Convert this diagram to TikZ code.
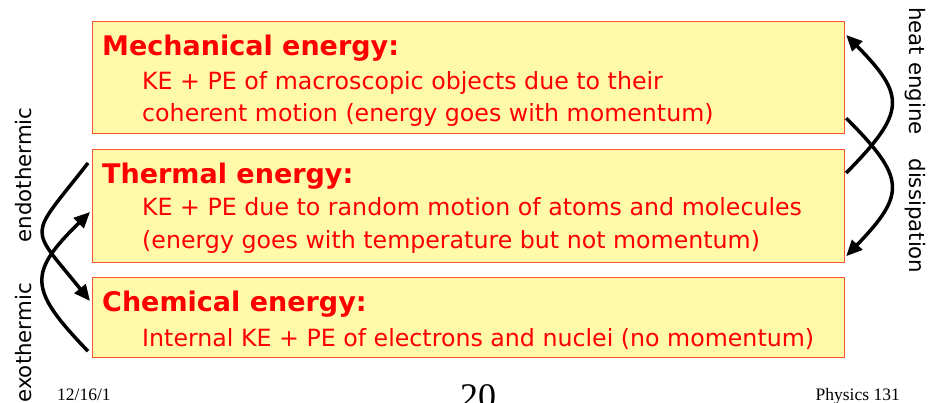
\documentclass[tikz,border=0pt]{standalone}
\usepackage{fontspec}
\setmainfont{DejaVu Sans}
\newfontfamily\serifft{Liberation Serif}
\usetikzlibrary{arrows.meta,calc}
\definecolor{boxfill}{RGB}{255,250,170}
\definecolor{boxline}{RGB}{250,85,50}
\definecolor{txtred}{RGB}{255,0,0}
\begin{document}
\begin{tikzpicture}[x=1pt,y=-1pt,
  ebox/.style={draw=boxline, fill=boxfill, line width=1.2pt, rectangle, inner sep=0pt, anchor=north west, minimum width=752pt},
  etitle/.style={anchor=base west, inner sep=0pt, text=txtred, font=\fontsize{27}{32}\selectfont\bfseries},
  ebody/.style={anchor=base west, inner sep=0pt, text=txtred, font=\fontsize{23.7}{28}\selectfont},
  flow/.style={line width=3.5pt, -{Triangle[length=16pt,width=14pt]}},
  side/.style={inner sep=0pt, font=\fontsize{21.3}{25}\selectfont},
  foot/.style={inner sep=0pt, font=\serifft\fontsize{17.5}{20}\selectfont}]
\useasboundingbox (0,0) rectangle (929,403);

% boxes
\node[ebox, minimum height=112pt] (mech) at (92,21) {};
\node[ebox, minimum height=113pt] (thermal) at (92,149) {};
\node[ebox, minimum height=80pt] (chem) at (92,277) {};

% box texts
\node[etitle] (mecht) at ([xshift=10pt,yshift=-35pt]mech.north west) {Mechanical energy:};
\node[ebody] (mechb1) at ([xshift=50pt,yshift=-69pt]mech.north west) {KE + PE of macroscopic objects due to their};
\node[ebody] (mechb2) at ([xshift=50pt,yshift=-101pt]mech.north west) {coherent motion (energy goes with momentum)};

\node[etitle] (thermt) at ([xshift=10pt,yshift=-35pt]thermal.north west) {Thermal energy:};
\node[ebody] (thermb1) at ([xshift=50pt,yshift=-67pt]thermal.north west) {KE + PE due to random motion of atoms and molecules};
\node[ebody] (thermb2) at ([xshift=50pt,yshift=-100pt]thermal.north west) {(energy goes with temperature but not momentum)};

\node[etitle] (chemt) at ([xshift=10pt,yshift=-35pt]chem.north west) {Chemical energy:};
\node[ebody] (chemb1) at ([xshift=50pt,yshift=-69pt]chem.north west) {Internal KE + PE of electrons and nuclei (no momentum)};

% side labels
\node[side, rotate=90] (endo) at (24,175) {endothermic};
\node[side, rotate=90] (exo) at (24,343) {exothermic};
\node[side, rotate=-90] (heat) at (915,71) {heat engine};
\node[side, rotate=-90] (diss) at (915,216) {dissipation};

% connectors
\draw[flow] ([xshift=1pt,yshift=-24pt]thermal.north east) .. controls (906,112) and (906,96) .. ([xshift=1pt,yshift=-14pt]mech.north east);
\draw[flow] ([xshift=1pt,yshift=16pt]mech.south east) .. controls (906,178) and (906,194) .. ([xshift=1pt,yshift=7pt]thermal.south east);
\draw[flow] ([xshift=-4pt,yshift=7pt]chem.south west) .. controls (28,289) and (28,273) .. ([xshift=-2pt,yshift=-63pt]thermal.north west);
\draw[flow] ([xshift=-4pt,yshift=-14pt]thermal.north west) .. controls (28,240) and (28,224) .. ([xshift=-2pt,yshift=-24pt]chem.north west);

% footer
\node[foot, anchor=base west] (date) at (57,400) {12/16/1};
\node[foot, anchor=base east] (course) at (900,400) {Physics 131};
\node[anchor=base west, inner sep=0pt, font=\serifft\fontsize{36}{40}\selectfont] (page) at (460,408) {20};
\end{tikzpicture}
\end{document}
